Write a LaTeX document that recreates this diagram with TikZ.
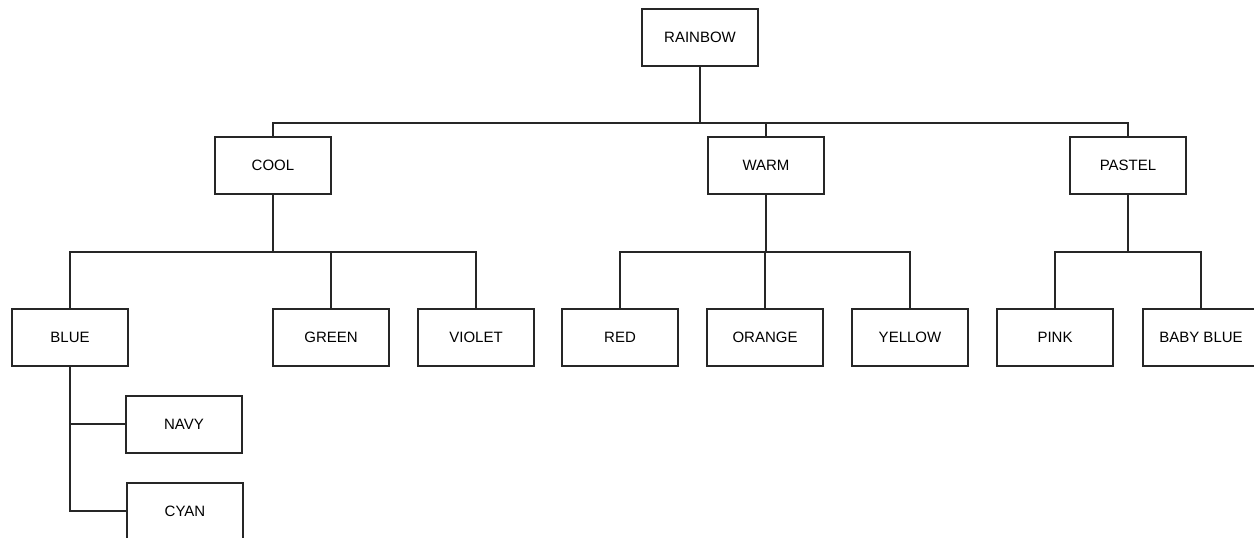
\documentclass[tikz,border=0pt]{standalone}
\usepackage{fontspec}
\setmainfont{Liberation Sans}
\definecolor{ln}{HTML}{262626}
\begin{document}
\begin{tikzpicture}[x=1pt,y=-1pt,
  box/.style={draw=ln,line width=2pt,fill=white,rectangle,minimum width=116pt,minimum height=57pt,inner sep=0pt,font=\fontsize{15}{18}\selectfont,text=black},
  conn/.style={draw=ln,line width=2pt}]
\useasboundingbox[fill=white] (0,0) rectangle (1254,538);
\clip (0,0) rectangle (1254,538);
\node[box] (rainbow) at (700,37.5) {RAINBOW};
\node[box] (cool) at (273,165.5) {COOL};
\node[box] (warm) at (766,165.5) {WARM};
\node[box] (pastel) at (1128,165.5) {PASTEL};
\node[box] (blue) at (70,337.5) {BLUE};
\node[box] (green) at (331,337.5) {GREEN};
\node[box] (violet) at (476,337.5) {VIOLET};
\node[box] (red) at (620,337.5) {RED};
\node[box] (orange) at (765,337.5) {ORANGE};
\node[box] (yellow) at (910,337.5) {YELLOW};
\node[box] (pink) at (1055,337.5) {PINK};
\node[box] (babyblue) at (1201,337.5) {BABY BLUE};
\node[box] (navy) at (184,424) {NAVY};
\node[box] (cyan) at (185,511) {CYAN};
\coordinate (j1) at (700,123);
\coordinate (jc) at (273,252);
\coordinate (jw) at (766,252);
\coordinate (jp) at (1128,252);
\draw[conn] (rainbow.south) -- (j1);
\draw[conn] (j1) -| (cool.north);
\draw[conn] (j1) -| (warm.north);
\draw[conn] (j1) -| (pastel.north);
\draw[conn] (cool.south) -- (jc);
\draw[conn] (jc) -| (blue.north);
\draw[conn] (jc) -| (green.north);
\draw[conn] (jc) -| (violet.north);
\draw[conn] (warm.south) -- (jw);
\draw[conn] (jw) -| (red.north);
\draw[conn] (jw) -| (orange.north);
\draw[conn] (jw) -| (yellow.north);
\draw[conn] (pastel.south) -- (jp);
\draw[conn] (jp) -| (pink.north);
\draw[conn] (jp) -| (babyblue.north);
\draw[conn] (blue.south) |- (cyan.west);
\draw[conn] (navy.west) -- (navy.west -| blue.south);
\end{tikzpicture}
\end{document}
